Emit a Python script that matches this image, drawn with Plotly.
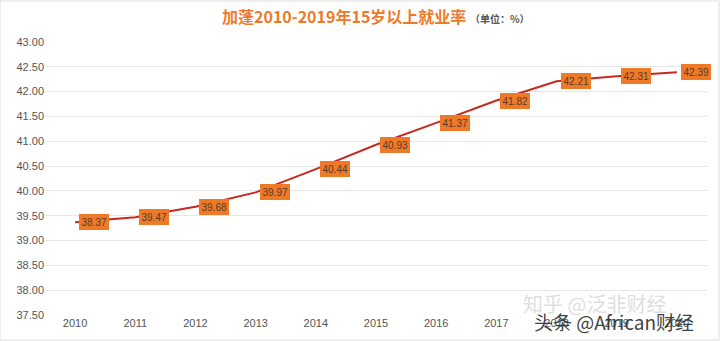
import plotly.graph_objects as go

years = ["2010", "2011", "2012", "2013", "2014", "2015", "2016", "2017", "2018", "2019", "2020"]
rates = [39.37, 39.47, 39.68, 39.97, 40.44, 40.93, 41.37, 41.82, 42.21, 42.31, 42.39]
labels = ["38.37", "39.47", "39.68", "39.97", "40.44", "40.93", "41.37", "41.82", "42.21", "42.31", "42.39"]
y_ticks = [37.5, 38.0, 38.5, 39.0, 39.5, 40.0, 40.5, 41.0, 41.5, 42.0, 42.5, 43.0]

fig = go.Figure()
fig.add_trace(go.Scatter(
    x=years, y=rates, mode="lines",
    line=dict(color="#C8281E", width=2),
    hoverinfo="skip", showlegend=False,
))

for i, (v, lab) in enumerate(zip(rates, labels)):
    fig.add_annotation(
        x=i, y=v, xref="x", yref="y", text=lab, showarrow=False, xshift=19,
        bgcolor="#EE7A28", bordercolor="#EE7A28", borderpad=1.5,
        font=dict(family="Arial, Liberation Sans", size=10, color="#5a3a2a"),
    )

fig.add_annotation(
    xref="paper", yref="paper", x=0.5, y=1.0, yshift=26, showarrow=False,
    text="<b>加蓬2010-2019年15岁以上就业率</b> <span style='font-size:10px;color:#555'><b>（单位：%）</b></span>",
    font=dict(family="Noto Sans CJK SC", size=16, color="#EE7A28"),
    xanchor="center", yanchor="middle",
)

# watermarks
fig.add_annotation(
    xref="paper", yref="paper", x=0.83, y=0.0, yshift=12, showarrow=False,
    text="知乎 @泛非财经", font=dict(family="Noto Sans CJK SC", size=20, color="rgba(200,200,200,0.6)"),
    xanchor="center", yanchor="middle",
)
fig.add_annotation(
    xref="paper", yref="paper", x=0.86, y=0.0, yshift=-6, showarrow=False,
    text="头条 @African财经", font=dict(family="Noto Sans CJK SC", size=19, color="rgba(40,40,40,0.9)"),
    xanchor="center", yanchor="middle",
)

fig.update_layout(
    width=720, height=341,
    margin=dict(l=45, r=13, t=42, b=26),
    paper_bgcolor="white", plot_bgcolor="white",
    xaxis=dict(
        type="category", range=[-0.5, 10.5], showgrid=False, zeroline=False,
        showline=False, ticks="", ticklen=0,
        tickfont=dict(family="Arial, Liberation Sans", size=11, color="#555555"),
    ),
    yaxis=dict(
        range=[37.5, 43.0], tickvals=y_ticks, tickformat=".2f",
        showgrid=True, gridcolor="#E6E6E6", gridwidth=1, zeroline=False,
        showline=False, ticks="",
        tickfont=dict(family="Arial, Liberation Sans", size=11, color="#555555"),
    ),
    shapes=[dict(type="rect", xref="paper", yref="paper", x0=-45/662, x1=1+12/662,
                 y0=-25/273, y1=1+41/273, line=dict(color="#DDDDDD", width=1))],
)

fig.write_html("out.html")
